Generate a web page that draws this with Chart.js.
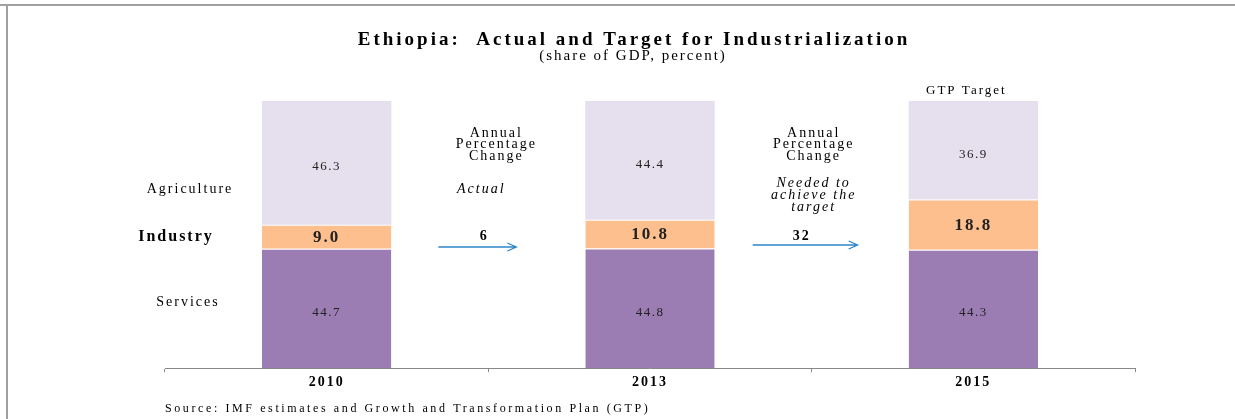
<!DOCTYPE html>
<html>
<head>
<meta charset="utf-8">
<script src="https://cdn.jsdelivr.net/npm/chart.js@4"></script>
<style>
  html, body { margin: 0; padding: 0; background: #fff; }
  #wrap { position: relative; width: 1235px; height: 419px; }
</style>
</head>
<body>
<div id="wrap"><canvas id="chart" width="1235" height="419"></canvas></div>
<script>
"use strict";

var years = ["2010", "2013", "2015"];
var services = [44.7, 44.8, 44.3];
var industry = [9.0, 10.8, 18.8];
var agriculture = [46.3, 44.4, 36.9];
var growthRates = ["6", "32"];

var serif = "'Liberation Serif', 'DejaVu Serif', serif";

// the original uses wide-spaced Times text
var spacing = {
  id: "spacing",
  beforeDraw: function (chart) { chart.ctx.letterSpacing = "2px"; }
};

// text and arrows that sit around the bars
var annotations = {
  id: "annotations",
  afterDraw: function (chart) {
    var c = chart.ctx;
    var xs = chart.scales.x;
    var p0 = xs.getPixelForValue(0), p1 = xs.getPixelForValue(1), p2 = xs.getPixelForValue(2);
    var mids = [(p0 + p1) / 2, (p1 + p2) / 2];
    c.save();
    c.fillStyle = "#000";
    c.textBaseline = "middle";
    c.textAlign = "center";

    // frame lines
    c.strokeStyle = "#a0a0a0";
    c.lineWidth = 2;
    c.beginPath();
    c.moveTo(0, 5); c.lineTo(1235, 5);
    c.moveTo(7, 5); c.lineTo(7, 419);
    c.stroke();

    c.letterSpacing = "3px";
    c.font = "bold 19px " + serif;
    c.fillText("Ethiopia:  Actual and Target for Industrialization", 634, 40);
    c.letterSpacing = "2px";
    c.font = "15px " + serif;
    c.fillText("(share of GDP, percent)", 633, 56);
    c.font = "13px " + serif;
    c.fillText("GTP Target", p2 - 7, 91);

    // row labels on the left
    c.font = "14px " + serif;
    c.fillText("Agriculture", 190, 189);
    c.fillText("Services", 188, 302);
    c.font = "bold 16px " + serif;
    c.fillText("Industry", 176, 237);

    // annual change notes
    c.font = "14px " + serif;
    var notes = [["Annual", "Percentage", "Change"], ["Annual", "Percentage", "Change"]];
    mids.forEach(function (m, i) {
      var x = m + (i === 0 ? 8 : 2);
      notes[i].forEach(function (t, k) { c.fillText(t, x, 133 + k * 11.5); });
    });
    c.font = "italic 14px " + serif;
    c.fillText("Actual", mids[0] - 7, 189);
    ["Needed to", "achieve the", "target"].forEach(function (t, k) {
      c.fillText(t, mids[1] + 2, 183 + k * 12);
    });

    // arrows with growth rates
    var arrows = [[-50, 28, 247], [-59, 46, 245]];
    mids.forEach(function (m, i) {
      c.font = "bold 14px " + serif;
      c.fillText(growthRates[i], m - 4 - i * 6, 236);
      var x1 = m + arrows[i][0], x2 = m + arrows[i][1];
      var y = arrows[i][2];
      c.strokeStyle = "#2f86c9";
      c.lineWidth = 1.3;
      c.beginPath();
      c.moveTo(x1, y); c.lineTo(x2, y);
      c.moveTo(x2 - 9, y - 4); c.lineTo(x2, y); c.lineTo(x2 - 9, y + 4);
      c.stroke();
    });

    c.font = "12px " + serif;
    c.letterSpacing = "2.6px";
    c.textAlign = "left";
    c.fillText("Source: IMF estimates and Growth and Transformation Plan (GTP)", 165, 409);
    c.restore();
  }
};

var valueLabels = {
  id: "valueLabels",
  afterDatasetsDraw: function (chart) {
    var c = chart.ctx;
    c.save();
    c.textAlign = "center";
    c.textBaseline = "middle";
    c.fillStyle = "#222";
    chart.data.datasets.forEach(function (ds, di) {
      var meta = chart.getDatasetMeta(di);
      meta.data.forEach(function (bar, i) {
        var y = (bar.y + bar.base) / 2;
        c.letterSpacing = ds.label === "Industry" ? "2px" : "1.5px";
        c.font = ds.label === "Industry" ? "bold 17px " + serif : "13px " + serif;
        c.fillText(ds.data[i].toFixed(1), bar.x, y + (ds.label === "Industry" ? 1 : 4));
      });
    });
    c.restore();
  }
};

new Chart(document.getElementById("chart"), {
  type: "bar",
  data: {
    labels: years,
    datasets: [
      { label: "Services", data: services, backgroundColor: "#9b7db4", borderColor: "#ffffff", borderWidth: { top: 1 }, borderSkipped: false },
      { label: "Industry", data: industry, backgroundColor: "#fdbf8e", borderColor: "#ffffff", borderWidth: { top: 1 }, borderSkipped: false },
      { label: "Agriculture", data: agriculture, backgroundColor: "#e6dfed", borderWidth: 0 }
    ]
  },
  options: {
    responsive: false,
    animation: false,
    events: [],
    layout: { padding: { left: 165, right: 100, top: 101, bottom: 26 } },
    plugins: { legend: { display: false }, tooltip: { enabled: false } },
    datasets: { bar: { barPercentage: 0.4, categoryPercentage: 1.0 } },
    scales: {
      x: {
        stacked: true,
        border: { color: "#888", width: 1 },
        grid: { offset: true, drawOnChartArea: false, tickLength: 4, color: "#888" },
        ticks: { color: "#000", font: { family: serif, size: 14, weight: "bold" }, padding: 2 }
      },
      y: { stacked: true, display: false, min: 0, max: 100 }
    }
  },
  plugins: [spacing, valueLabels, annotations]
});
</script>
</body>
</html>
